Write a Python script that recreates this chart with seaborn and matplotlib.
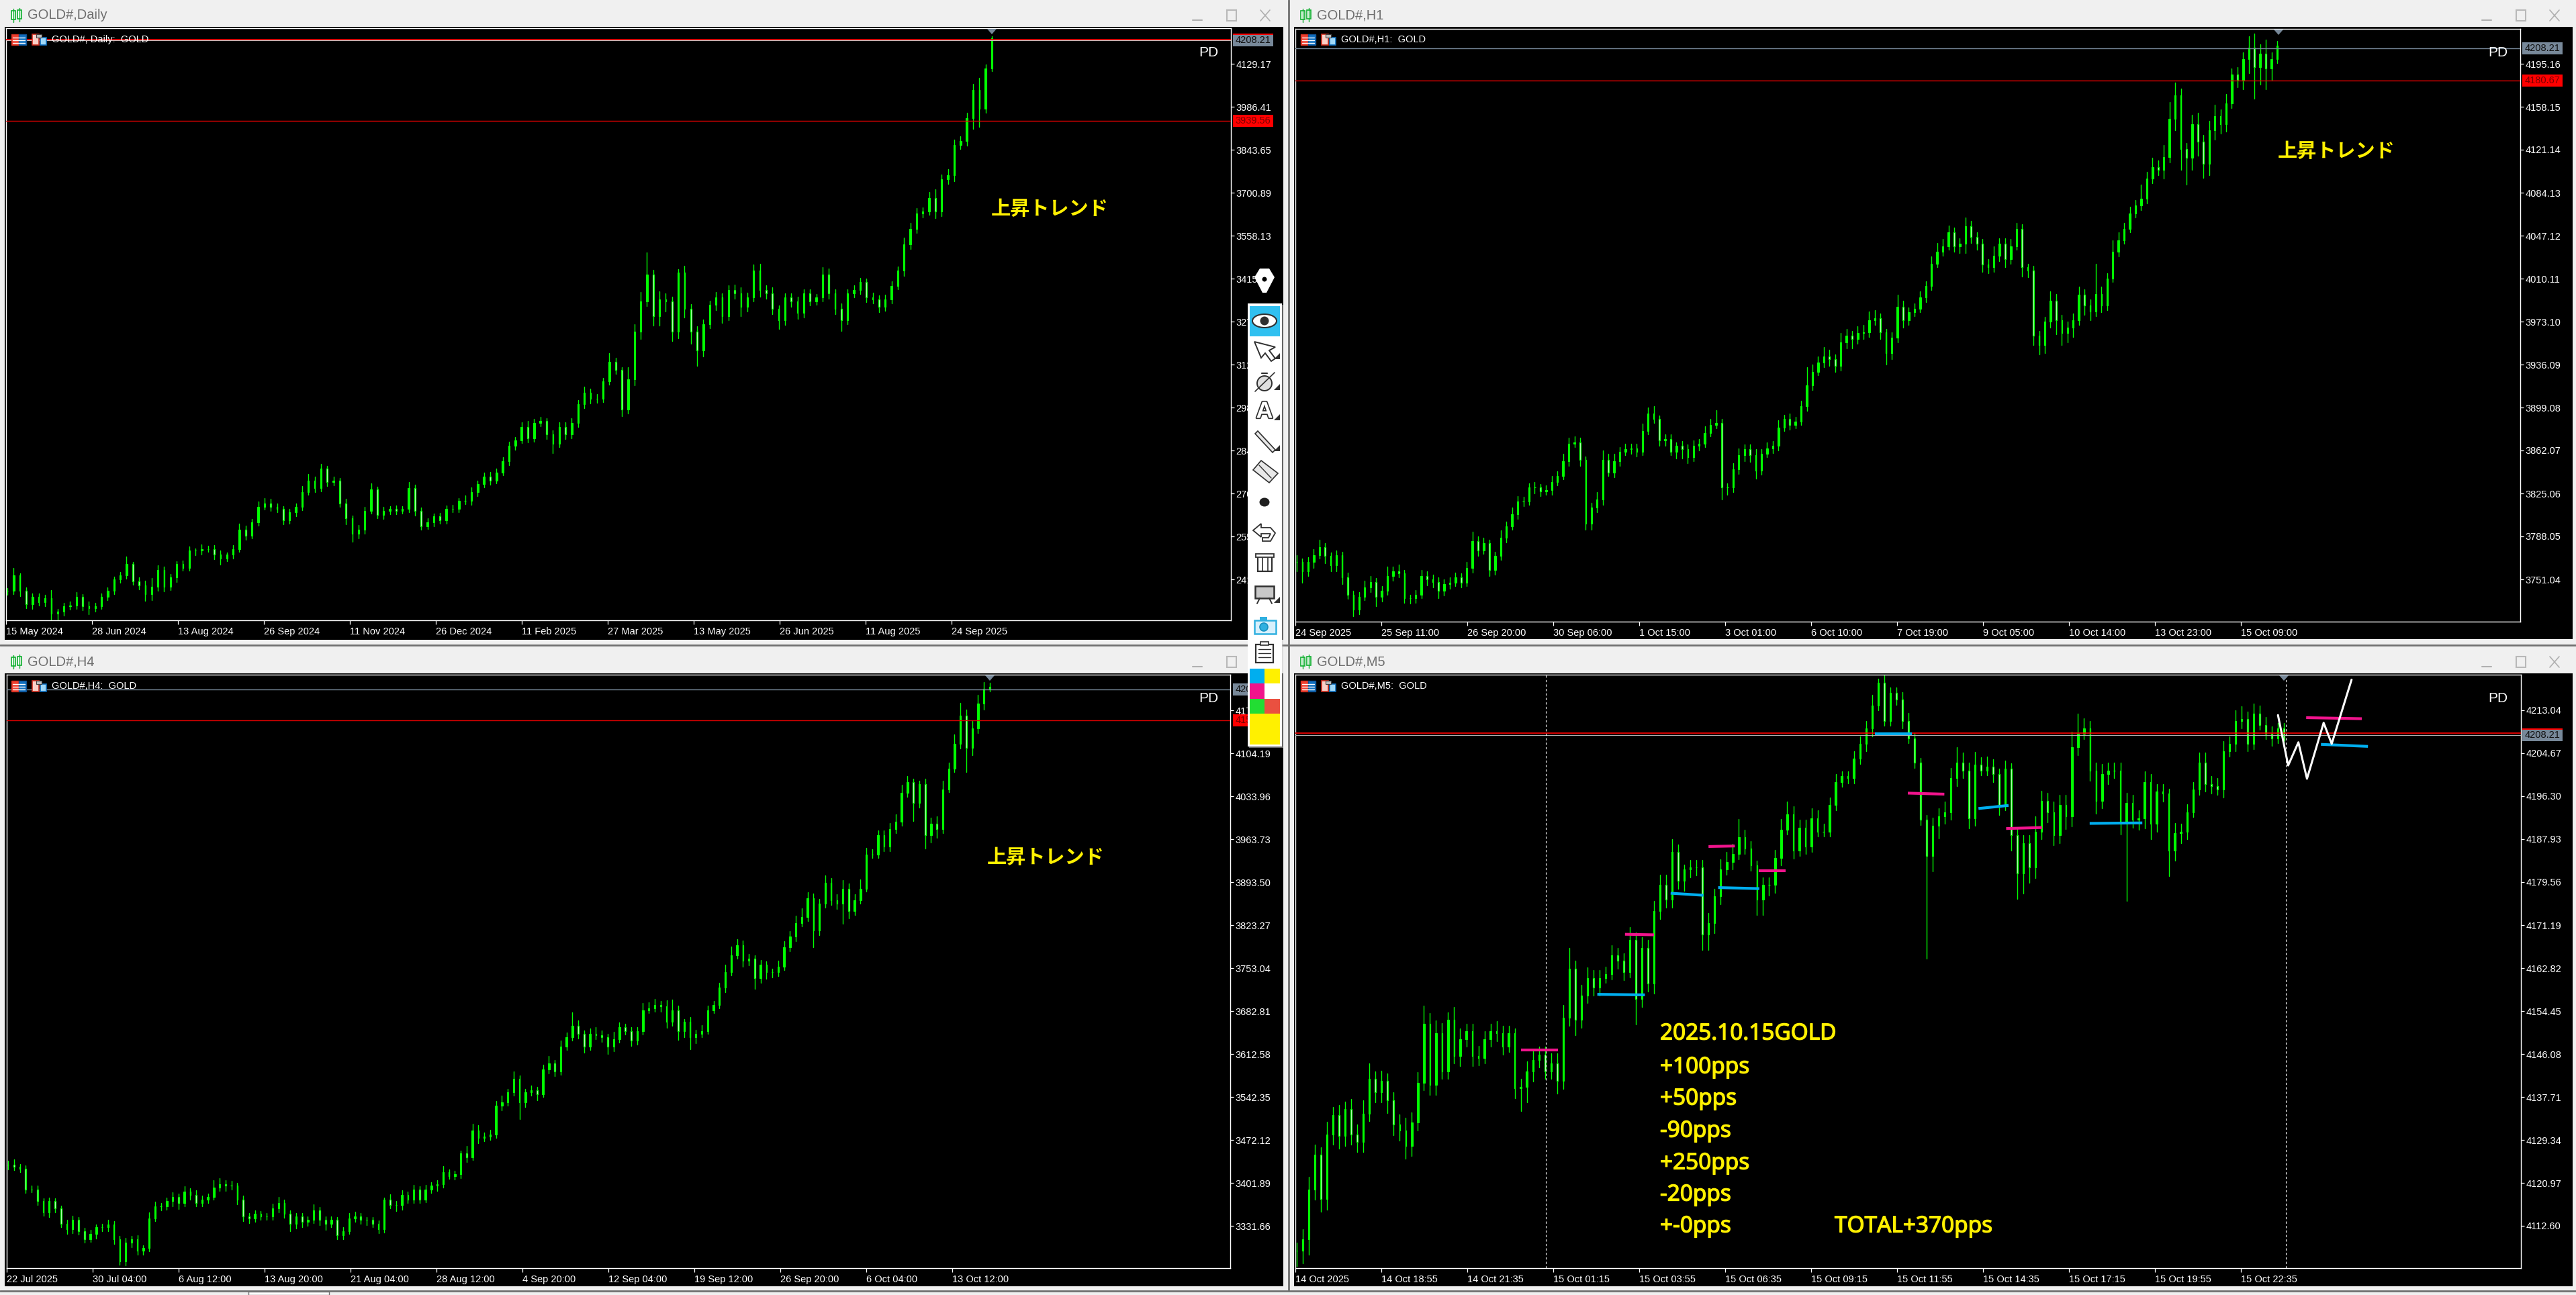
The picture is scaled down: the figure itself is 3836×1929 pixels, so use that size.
import numpy as np
import pandas as pd
import matplotlib
matplotlib.use("Agg")
import matplotlib.pyplot as plt
import matplotlib.patheffects as pe
from matplotlib.patches import Rectangle, Polygon, Ellipse, Circle
import seaborn as sns

# ─── Values ───────────────────────────────────────────────
d1_close = [
    2378,2429,2378,2334,2359,2340,2353,2302,2308,2327,
    2330,2359,2327,2321,2327,2359,2378,2416,2429,2467,
    2410,2397,2366,2391,2448,2391,2422,2467,2454,2511,
    2511,2517,2517,2498,2486,2498,2517,2581,2562,2606,
    2657,2669,2657,2650,2612,2638,2657,2707,2745,2720,
    2783,2739,2745,2669,2619,2568,2581,2644,2714,2631,
    2644,2650,2644,2650,2720,2644,2593,2606,2625,2612,
    2650,2650,2676,2676,2707,2733,2758,2745,2771,2809,
    2859,2878,2923,2885,2935,2942,2897,2866,2923,2897,
    2935,2998,3036,3017,3017,3074,3138,3112,2980,3081,
    3239,3340,3429,3290,3347,3340,3239,3435,3315,3239,
    3176,3264,3328,3353,3290,3378,3366,3321,3353,3442,
    3378,3366,3315,3277,3353,3340,3302,3366,3340,3353,
    3429,3366,3315,3277,3366,3378,3404,3353,3347,3321,
    3347,3391,3442,3530,3581,3632,3638,3682,3638,3745,
    3758,3859,3872,3948,4043,3980,4113,4214]
d1_wick_up = [
    10,25,8,12,10,10,12,28,10,12,
    12,14,8,15,10,10,12,10,12,25,
    8,12,15,30,15,10,12,10,12,14,
    8,15,10,12,14,8,12,20,14,10,
    18,16,14,10,10,12,10,18,22,12,
    16,10,12,8,14,10,16,14,22,10,
    12,10,12,10,20,10,10,12,10,12,
    12,14,10,18,14,12,12,14,12,12,
    14,12,16,20,14,14,10,14,16,14,
    16,14,20,14,14,12,30,14,10,40,
    25,30,73,15,25,20,15,12,22,15,
    18,15,14,18,14,16,18,20,16,20,
    22,14,20,12,14,14,16,14,14,12,
    25,20,14,18,14,14,14,12,16,12,
    14,16,14,22,20,18,14,22,30,16,
    20,18,16,18,20,40,14,6]
d1_wick_dn = [
    14,12,18,14,16,12,14,20,30,12,
    12,12,14,20,12,10,12,10,12,10,
    12,14,22,18,12,16,10,14,10,10,
    14,12,10,14,20,10,12,10,14,10,
    12,10,14,12,12,10,12,12,10,14,
    12,14,10,12,20,28,16,14,10,12,
    14,12,12,10,12,16,12,10,14,10,
    10,10,12,10,12,14,12,14,10,10,
    14,12,10,14,12,10,14,30,10,14,
    12,12,14,16,14,12,12,14,22,12,
    20,25,16,30,30,35,30,22,28,40,
    50,20,14,18,22,14,18,30,16,14,
    22,18,18,30,16,18,20,16,14,12,
    14,18,18,35,14,14,14,16,14,18,
    12,14,12,18,16,14,14,10,22,16,
    16,20,14,14,35,60,14,8]

h1_close = [
    3766,3758,3766,3772,3779,3771,3763,3772,3753,3738,
    3725,3736,3744,3749,3736,3741,3754,3758,3756,3735,
    3735,3738,3754,3751,3749,3741,3747,3748,3753,3748,
    3761,3784,3776,3782,3759,3771,3787,3797,3807,3818,
    3818,3830,3830,3827,3828,3835,3840,3853,3868,3869,
    3854,3799,3813,3820,3854,3843,3853,3861,3863,3864,
    3861,3879,3894,3889,3871,3872,3861,3866,3863,3856,
    3866,3868,3877,3884,3886,3830,3830,3846,3858,3863,
    3858,3845,3859,3864,3866,3882,3889,3884,3887,3900,
    3918,3930,3938,3943,3941,3935,3955,3961,3958,3963,
    3964,3974,3976,3964,3946,3959,3986,3974,3981,3984,
    3994,4004,4023,4033,4038,4050,4038,4040,4055,4046,
    4040,4022,4020,4030,4040,4027,4038,4053,4020,4017,
    3961,3953,3973,3991,3974,3963,3968,3974,3996,3987,
    3982,3997,3987,4010,4033,4043,4053,4066,4073,4079,
    4096,4106,4104,4115,4148,4168,4122,4114,4143,4128,
    4109,4138,4150,4143,4161,4186,4181,4199,4209,4192,
    4204,4191,4199,4211]
h1_wick_up = [
    6,3,4,5,6,3,3,4,3,4,
    3,4,6,5,3,4,8,4,6,3,
    3,4,5,4,4,4,4,5,4,3,
    5,8,4,5,3,4,6,4,6,5,
    4,4,5,3,4,5,4,6,5,5,
    4,3,4,6,8,5,6,4,5,4,
    4,6,5,6,3,4,4,3,4,4,
    5,4,6,5,11,3,4,5,6,4,
    4,5,4,5,4,6,4,5,4,5,
    16,6,5,8,6,4,8,6,4,6,
    6,8,7,4,3,5,10,5,4,5,
    5,4,6,8,6,6,4,5,8,5,
    4,4,5,8,5,5,6,5,4,3,
    4,4,4,8,6,5,5,6,7,5,
    5,26,6,5,10,7,5,6,5,12,
    6,8,6,10,14,11,6,5,8,10,
    6,8,10,6,8,5,6,6,10,12,
    8,12,6,4]
h1_wick_dn = [
    8,10,4,5,3,6,5,5,6,4,
    6,4,3,4,8,4,3,4,3,4,
    5,4,3,5,5,6,4,4,3,4,
    3,4,5,3,5,4,3,4,3,4,
    4,3,5,4,3,4,3,3,4,3,
    5,5,5,4,5,3,4,4,3,4,
    4,3,3,3,5,5,3,6,8,5,
    3,4,3,3,3,10,6,4,4,5,
    6,7,4,3,4,4,3,4,3,3,
    4,4,3,4,6,5,4,5,8,4,
    5,4,4,6,10,5,4,6,4,3,
    3,4,4,3,3,3,5,6,8,5,
    5,6,5,4,5,7,4,3,8,6,
    8,8,7,5,12,10,8,8,4,8,
    8,4,6,4,3,4,3,3,3,4,
    4,4,5,8,5,10,18,23,10,12,
    12,10,8,8,6,4,6,8,12,27,
    15,18,10,3]

h4_close = [
    3432,3428,3425,3391,3391,3372,3354,3372,3360,3335,
    3326,3341,3323,3310,3319,3329,3329,3334,3310,3273,
    3304,3310,3291,3295,3344,3363,3363,3372,3379,3369,
    3388,3382,3369,3375,3379,3394,3400,3397,3397,3375,
    3347,3344,3351,3347,3347,3360,3369,3351,3335,3347,
    3338,3341,3357,3341,3335,3341,3316,3323,3344,3347,
    3341,3341,3335,3326,3375,3366,3366,3382,3375,3391,
    3375,3391,3397,3400,3419,3413,3416,3450,3444,3488,
    3475,3478,3481,3528,3534,3550,3572,3534,3550,3553,
    3547,3587,3597,3584,3625,3640,3659,3646,3625,3646,
    3643,3640,3625,3637,3656,3650,3634,3650,3684,3687,
    3693,3690,3665,3684,3650,3665,3640,3646,3650,3684,
    3693,3721,3746,3774,3790,3765,3768,3737,3758,3746,
    3746,3755,3787,3805,3827,3836,3867,3815,3858,3892,
    3864,3858,3883,3846,3864,3883,3939,3939,3970,3952,
    3980,3992,4039,4057,4023,4054,3970,3989,3980,4045,
    4079,4120,4166,4113,4145,4185,4210,4213]
h4_wick_up = [
    6,8,5,5,6,6,5,6,5,5,
    6,7,5,5,6,5,6,8,5,5,
    8,5,6,5,10,8,6,6,8,5,
    8,5,8,6,5,12,10,6,8,5,
    6,5,6,5,5,8,10,5,6,5,
    6,6,10,5,6,6,5,6,8,8,
    6,5,5,5,3,8,6,8,6,8,
    5,8,6,6,10,5,6,5,12,10,
    8,6,8,8,10,6,12,6,5,8,
    6,8,12,6,10,8,22,8,5,8,
    10,8,5,12,8,6,6,6,12,10,
    10,6,10,18,8,5,8,6,10,8,
    6,8,12,14,10,8,8,6,8,6,
    6,10,10,8,12,15,10,8,8,12,
    8,10,14,8,10,15,10,8,8,8,
    10,12,14,10,6,5,8,10,12,14,
    10,15,20,10,12,15,10,6]
h4_wick_dn = [
    8,5,6,6,5,6,6,8,6,6,
    8,6,6,6,5,8,6,6,8,5,
    6,8,6,6,5,5,6,5,8,10,
    6,8,6,5,6,5,5,8,6,8,
    8,8,6,6,6,5,6,6,12,8,
    8,6,5,8,10,6,6,6,5,6,
    6,8,6,6,5,6,10,8,6,6,
    6,5,6,8,6,5,6,6,8,5,
    8,5,6,6,8,6,6,28,8,6,
    10,5,6,8,5,6,6,8,10,6,
    6,8,12,8,6,6,8,6,6,5,
    5,8,10,6,14,10,20,10,6,5,
    5,6,8,5,6,10,8,18,8,10,
    8,6,5,6,8,6,6,28,8,6,
    8,8,32,12,6,6,5,6,6,8,
    8,6,6,6,30,8,22,12,14,6,
    5,6,8,40,12,8,10,5]

m5_close = [
    4107.8,4110.0,4119.7,4126.4,4117.8,4130.4,4134.2,4130.1,4135.3,4130.4,
    4129.0,4134.5,4141.2,4138.6,4140.8,4137.1,4132.3,4131.2,4128.2,4132.7,
    4140.5,4152.0,4140.1,4150.1,4142.7,4152.7,4145.7,4149.0,4150.5,4145.7,
    4145.3,4149.0,4150.5,4150.1,4147.5,4150.1,4139.4,4139.7,4142.7,4144.9,
    4146.0,4142.7,4144.2,4140.8,4153.1,4162.7,4152.7,4157.5,4160.9,4159.0,
    4160.9,4161.6,4165.3,4164.2,4162.0,4168.3,4156.8,4166.8,4159.8,4173.9,
    4179.0,4176.1,4185.4,4179.8,4182.0,4182.4,4182.4,4169.4,4171.6,4176.8,
    4182.0,4183.5,4185.0,4188.3,4186.1,4182.8,4176.1,4179.0,4179.0,4184.3,
    4189.8,4192.8,4185.7,4190.2,4186.5,4192.0,4189.4,4189.4,4194.6,4199.1,
    4200.2,4199.8,4203.6,4206.5,4209.5,4214.0,4218.4,4211.0,4216.5,4215.1,
    4211.0,4207.6,4202.8,4191.7,4184.6,4190.6,4192.4,4193.2,4199.8,4202.8,
    4201.3,4192.0,4202.4,4201.3,4202.0,4200.6,4194.6,4201.7,4188.7,4181.3,
    4187.2,4182.4,4189.4,4195.4,4193.2,4188.7,4194.6,4192.4,4205.8,4208.4,
    4209.5,4201.3,4195.4,4200.6,4201.3,4201.3,4190.9,4195.0,4191.7,4192.0,
    4199.1,4190.9,4197.2,4196.8,4185.7,4189.1,4189.4,4193.2,4197.6,4202.8,
    4198.7,4198.3,4197.6,4205.0,4206.5,4211.0,4211.3,4206.5,4212.4,4210.2,
    4208.4,4207.6,4209.5,4207.2]
m5_wick_up = [
    1.5,2,2.5,2,1.5,2.5,1.5,2,1.5,2,
    2,2.5,3,1.5,2,1.5,1.5,2,2.5,2,
    2,3.5,2,2.5,2,1.5,2.5,2,1.5,1.5,
    2,1.5,1.5,2,1.5,1.5,1,1.5,2,2,
    1.5,1.5,2,2,2.5,4,1.5,2,2,1.5,
    1.5,1.5,2,1.5,1.5,2.5,1.5,2,1.5,2,
    2,2,2.5,1.5,1,1.5,1.5,1.5,2,1.5,
    2,2,2,3.5,1.5,1.5,1,1.5,1.5,1.5,
    2,2.5,1.5,1.5,1.5,2,1.5,1.5,1.5,1.5,
    1,1,1.5,1.5,1.5,2,0.8,1.5,1,1,
    1.5,1.5,1,1,1,1.5,1.5,2,2,3,
    2,1.5,2.5,1.5,2,1.5,1,1.5,1,1.5,
    1.5,1.5,3,2,1.5,2,2,2,3,4,
    2,1.5,1.5,2,1.5,1.5,1.5,2,1.5,1.5,
    2,1.5,1.5,1.5,1,2,1.5,1.5,1.5,2,
    2,1.5,1.5,2,1.5,2,2.5,1.5,2,1.5,
    1.5,1.5,1,1]
m5_wick_dn = [
    3,2.5,3,2,2.5,2,2,2.5,2,2,
    2,2,1.5,2,2,2.5,2,2,2.5,2,
    1.5,1.5,2,2,1.5,1.5,1.5,2,1.5,2,
    1.5,1,1.5,1.5,1.5,1,2,4.5,3,2,
    1.5,1.5,1.5,2.5,1.5,1.5,3,1.5,1.5,1.5,
    1.5,1,1,1.5,1.5,1,5,1.5,1.5,2,
    1.5,1.5,1.5,1.5,2,1.5,1.5,3,3,2,
    1.5,1,1.5,1,1,1,3,3,2,1.5,
    1.5,1,1.5,1,1.5,1,1,1,1,1,
    1,1,1,1,1.5,1.5,1,1,1,1,
    1.5,1,1,1,20,3,2.5,1.5,1.5,1.5,
    1.5,2,1.5,1,1,1.5,2,1,3,5,
    4,3,2,1.5,2,2,1.5,2.5,2,1.5,
    1,2,2.5,1.5,2,1.5,2,15,1.5,2,
    2,3,1.5,1.5,5,2,2,1.5,1,1,
    1.5,1.5,1,1.5,1,1.5,1.5,1.5,1,1,
    1,1.5,1,0.6]

d1_ticks = [4129.17,3986.41,3843.65,3700.89,3558.13,3415.37,3272.61,3129.85,2987.09,2844.33,2701.57,2558.81,2416.05]
h1_ticks = [4195.16,4158.15,4121.14,4084.13,4047.12,4010.11,3973.10,3936.09,3899.08,3862.07,3825.06,3788.05,3751.04]
h4_ticks = [4174.42,4104.19,4033.96,3963.73,3893.50,3823.27,3753.04,3682.81,3612.58,3542.35,3472.12,3401.89,3331.66]
m5_ticks = [4213.04,4204.67,4196.30,4187.93,4179.56,4171.19,4162.82,4154.45,4146.08,4137.71,4129.34,4120.97,4112.60]

d1_dates = ["15 May 2024","28 Jun 2024","13 Aug 2024","26 Sep 2024","11 Nov 2024","26 Dec 2024",
            "11 Feb 2025","27 Mar 2025","13 May 2025","26 Jun 2025","11 Aug 2025","24 Sep 2025"]
h1_dates = ["24 Sep 2025","25 Sep 11:00","26 Sep 20:00","30 Sep 06:00","1 Oct 15:00","3 Oct 01:00",
            "6 Oct 10:00","7 Oct 19:00","9 Oct 05:00","10 Oct 14:00","13 Oct 23:00","15 Oct 09:00"]
h4_dates = ["22 Jul 2025","30 Jul 04:00","6 Aug 12:00","13 Aug 20:00","21 Aug 04:00","28 Aug 12:00",
            "4 Sep 20:00","12 Sep 04:00","19 Sep 12:00","26 Sep 20:00","6 Oct 04:00","13 Oct 12:00"]
m5_dates = ["14 Oct 2025","14 Oct 18:55","14 Oct 21:35","15 Oct 01:15","15 Oct 03:55","15 Oct 06:35",
            "15 Oct 09:15","15 Oct 11:55","15 Oct 14:35","15 Oct 17:15","15 Oct 19:55","15 Oct 22:35"]

# m5 drawings: bar number and price of the two ends of each stroke
pink_bars   = [(84,97.8),(122.7,133.5),(153.8,163.6),(172.5,182.5),(228,241.6),(264.6,278),(376.3,397)]
pink_prices = [(4146.9,4146.9),(4169.4,4169.3),(4186.5,4186.6),(4181.8,4181.8),(4196.9,4196.7),(4190.0,4190.2),(4211.6,4211.4)]
blue_bars   = [(112.4,130.1),(139.7,151.9),(157.4,172.7),(215.8,229.4),(254.3,265.5),(295.7,315.3),(381.8,399.3)]
blue_prices = [(4157.7,4157.6),(4177.4,4177.0),(4178.5,4178.3),(4208.4,4208.4),(4193.9,4194.5),(4191.0,4191.1),(4206.4,4206.0)]
zigzag_bars   = [365.8,369.6,373.4,376.6,382.8,385.8,393.2]
zigzag_prices = [4212.1,4202.3,4206.8,4199.7,4210.6,4206.5,4219.0]
m5_session_bars = [93.2,368.8]

note_lines = ["2025.10.15GOLD","+100pps","+50pps","-90pps","+250pps","-20pps","+-0pps"]
note_total = "TOTAL+370pps"
trend_label = "上昇トレンド"
last_price = 4208.21

# ─── Style ────────────────────────────────────────────────
W, H = 3836, 1929
GREEN  = "#00FF00"
RED    = "#FF0000"
SLATE  = "#778899"
YELLOW = "#FFF000"
PINK   = "#F0148C"
BLUE   = "#00AEEF"
LIGHT  = "#F0F0F0"
GREYTX = "#6E6E6E"

sns.set_theme(style="dark")
plt.rcParams["font.family"] = ["Liberation Sans", "Noto Sans CJK JP", "DejaVu Sans"]
plt.rcParams["axes.grid"] = False

fig = plt.figure(figsize=(W / 100, H / 100), dpi=100, facecolor=LIGHT)


def px_axes(left, top, right, bottom, **kw):
    return fig.add_axes([left / W, 1 - bottom / H, (right - left) / W, (bottom - top) / H], **kw)


def overlay(zorder):
    ax = px_axes(0, 0, W, H, zorder=zorder)
    ax.set_xlim(0, W)
    ax.set_ylim(H, 0)
    ax.axis("off")
    ax.patch.set_alpha(0)
    return ax


back = overlay(0)
top = overlay(5)


# ─── Window furniture ─────────────────────────────────────
def window(x0, y0, x1, y1, title, tx):
    back.add_patch(Rectangle((x0, y0), x1 - x0, y1 - y0, fc="black", ec="none"))
    ty = y0 - 17
    back.text(tx, ty, title, color=GREYTX, fontsize=14.5, va="center", ha="left")
    # little green candles of the title bar
    for cx, a, b in [(tx - 21, ty - 7, ty + 6), (tx - 12, ty - 8, ty + 5)]:
        back.plot([cx, cx], [a - 3, b + 4], color="#10B030", lw=1)
        back.add_patch(Rectangle((cx - 3, a), 6, b - a, fc="white", ec="#10B030", lw=1.2))
    bx = x1 - 128
    back.plot([bx - 7, bx + 7], [ty + 7, ty + 7], color="#B0B0B0", lw=1.5)
    back.add_patch(Rectangle((bx + 44, ty - 8), 14, 16, fc="none", ec="#B8B8B8", lw=1.5))
    back.plot([bx + 94, bx + 108], [ty - 8, ty + 8], color="#B0B0B0", lw=1.2)
    back.plot([bx + 94, bx + 108], [ty + 8, ty - 8], color="#B0B0B0", lw=1.2)


window(7, 40, 1911, 953, "GOLD#,Daily", 41)
window(1927, 40, 3831, 952, "GOLD#,H1", 1961)
window(7, 1003, 1911, 1916, "GOLD#,H4", 41)
window(1927, 1003, 3831, 1916, "GOLD#,M5", 1961)
back.plot([1919, 1919], [0, 1923], color="#707070", lw=2)
back.plot([0, W], [961, 961], color="#707070", lw=2)
back.plot([0, W], [1923, 1923], color="#707070", lw=2)
back.add_patch(Rectangle((370, 1924), 120, 5, fc="white", ec="#707070", lw=1))


# ─── Candles ──────────────────────────────────────────────
def draw_candles(ax, close, wick_up, wick_dn, last_bar):
    close = np.array(close, dtype=float)
    n = len(close)
    up = np.array(wick_up, dtype=float)[:n]
    dn = np.array(wick_dn, dtype=float)[:n]
    opens = np.r_[close[0], close[:-1]]
    body_top = np.maximum(opens, close)
    body_low = np.minimum(opens, close)
    x = np.linspace(0.5, last_bar, n)
    wicks = pd.DataFrame({
        "x": np.r_[x, x],
        "price": np.r_[body_top + up, body_low - dn],
        "bar": np.r_[np.arange(n), np.arange(n)],
    })
    sns.lineplot(data=wicks, x="x", y="price", units="bar", estimator=None, color=GREEN,
                 linewidth=1.0, legend=False, sort=False, ax=ax)
    rising = close >= opens
    ax.bar(x[rising], (body_top - body_low)[rising], bottom=body_low[rising], width=0.6,
           color=GREEN, edgecolor=GREEN, linewidth=0.8, zorder=3)
    ax.bar(x[~rising], (body_top - body_low)[~rising], bottom=body_low[~rising], width=0.4,
           color="#E8FFE8", edgecolor=GREEN, linewidth=0.9, zorder=3)


def price_tag(ax, price, x_left, fc, tc, label):
    y0, y1 = ax.get_ylim()
    pos = ax.get_position()
    py = H * (1 - pos.y0 - pos.height * (price - y0) / (y1 - y0))
    top.add_patch(Rectangle((x_left, py - 9), 60, 18, fc=fc, ec="none", zorder=2))
    top.text(x_left + 30, py, label, color=tc, fontsize=10.5, ha="center", va="center", zorder=3)
    return py


def header_icons(x, y):
    top.add_patch(Rectangle((x, y - 8), 11, 16, fc="#F04030", ec="#D03020", lw=1))
    top.add_patch(Rectangle((x + 11, y - 8), 11, 16, fc="#1070C0", ec="#105090", lw=1))
    for dy in (-3, 1, 5):
        top.plot([x + 2, x + 20], [y + dy, y + dy], color="white", lw=1)
    top.add_patch(Rectangle((x + 31, y - 8), 10, 16, fc="#FBD0C8", ec="#D03020", lw=1.2))
    top.add_patch(Rectangle((x + 43, y - 3), 9, 11, fc="#A0D8F8", ec="#1070C0", lw=1.2))
    top.add_patch(Rectangle((x + 37, y - 8), 8, 5, fc="#C0C0C0", ec="#404040", lw=0.8))


def panel(frame, ticks, tick0_y, step, dates, close, up, dn, last_bar, head, head_xy, pd_xy, lines, tri_x):
    left, ytop, right, bottom = frame
    ax = px_axes(left, ytop, right, bottom, zorder=2)
    ax.set_facecolor("black")
    per_px = step / 64
    ylim = (ticks[0] - (bottom - tick0_y) * per_px, ticks[0] + (tick0_y - ytop) * per_px)
    xlim = (0, (right - left) / 4)
    draw_candles(ax, close, up, dn, last_bar)
    ax.set_xlim(xlim)
    ax.set_ylim(ylim)
    ax.set_xlabel("")
    ax.set_ylabel("")
    ax.yaxis.tick_right()
    ax.set_yticks(ticks)
    ax.set_yticklabels([f"{t:.2f}" for t in ticks])
    ax.set_xticks(np.arange(len(dates)) * 32)
    ax.set_xticklabels(dates, ha="left")
    ax.tick_params(axis="y", colors="white", length=3.5, width=0.9, pad=2, labelsize=10.5, right=True)
    ax.tick_params(axis="x", colors="white", length=4, width=0.9, pad=3, labelsize=10.5, bottom=True)
    for s in ax.spines.values():
        s.set_color("white")
        s.set_linewidth(1.0)
        s.set_visible(True)
    for price, colour, lw in lines:
        ax.axhline(price, color=colour, lw=lw, zorder=4)
    top.text(head_xy[0], head_xy[1], head, color="white", fontsize=10.5, va="center", ha="left")
    header_icons(head_xy[0] - 60, head_xy[1])
    top.text(pd_xy[0], pd_xy[1], "PD", color="white", fontsize=15, va="center", ha="center")
    top.add_patch(Polygon([(tri_x - 7, ytop + 1), (tri_x + 7, ytop + 1), (tri_x, ytop + 9)], fc=SLATE, ec="none"))
    return ax


ax_d1 = panel((9, 42, 1833, 924), d1_ticks, 95, 142.76, d1_dates, d1_close, d1_wick_up, d1_wick_dn, 367,
              "GOLD#, Daily:  GOLD", (77, 59), (1800, 78),
              [(4207.5, "#C8C8C8", 0.8), (4210.0, RED, 1.2), (3939.56, "#E00000", 1.0)], 1477)
ax_h1 = panel((1929, 43, 3753, 926), h1_ticks, 95, 37.01, h1_dates, h1_close, h1_wick_up, h1_wick_dn, 365.5,
              "GOLD#,H1:  GOLD", (1997, 59), (3720, 78),
              [(4208.21, SLATE, 1.0), (4180.67, "#E00000", 1.0)], 3393)
ax_h4 = panel((10, 1005, 1832, 1889), h4_ticks, 1058, 70.23, h4_dates, h4_close, h4_wick_up, h4_wick_dn, 366,
              "GOLD#,H4:  GOLD", (77, 1022), (1800, 1041),
              [(4208.21, SLATE, 1.0), (4158.42, "#E00000", 1.0)], 1474)
ax_m5 = panel((1929, 1005, 3754, 1889), m5_ticks, 1058, 8.37, m5_dates, m5_close, m5_wick_up, m5_wick_dn, 368,
              "GOLD#,M5:  GOLD", (1997, 1022), (3720, 1041),
              [(4208.21, "#B0B0B0", 0.8), (4208.55, RED, 1.2)], 3401)

# price tags on the right scale
for ax, xl in ((ax_d1, 1836), (ax_h1, 3756), (ax_h4, 1836), (ax_m5, 3756)):
    py = price_tag(ax, last_price, xl, SLATE, "#101010", f"{last_price:.2f}")
    if ax in (ax_d1, ax_m5):
        top.add_patch(Rectangle((xl, py - 10), 60, 2, fc=RED, ec="none", zorder=3))
price_tag(ax_d1, 3939.56, 1836, RED, "#7A0000", "3939.56")
price_tag(ax_h1, 4180.67, 3756, RED, "#7A0000", "4180.67")
price_tag(ax_h4, 4158.42, 1836, RED, "#7A0000", "4158.42")

# ─── M5 drawings ──────────────────────────────────────────
for bar in m5_session_bars:
    ax_m5.axvline(bar, color="white", lw=0.8, ls=(0, (3, 3)), zorder=4)

for bars, prices, colour in ((pink_bars, pink_prices, PINK), (blue_bars, blue_prices, BLUE)):
    for b, p in zip(bars, prices):
        stroke = pd.DataFrame({"bar": b, "price": p})
        sns.lineplot(data=stroke, x="bar", y="price", estimator=None, color=colour, linewidth=3.0,
                     legend=False, sort=False, ax=ax_m5, zorder=6, solid_capstyle="butt")

sns.lineplot(x=zigzag_bars, y=zigzag_prices, estimator=None, color="white", linewidth=2.2,
             legend=False, sort=False, ax=ax_m5, zorder=7)
ax_m5.set_xlabel("")
ax_m5.set_ylabel("")

# ─── Yellow notes ─────────────────────────────────────────
CJK = ["Noto Sans CJK JP", "DejaVu Sans"]
FAT = [pe.withStroke(linewidth=0.9, foreground=YELLOW)]
for x, y in ((1563, 311), (1557, 1277), (3479, 225)):
    top.text(x, y, trend_label, color=YELLOW, fontsize=21, family=CJK, weight="bold", ha="center", va="center")
for line, y in zip(note_lines, (1540, 1590, 1637, 1685, 1733, 1780, 1827)):
    top.text(2472, y, line, color=YELLOW, fontsize=24, family=["Noto Sans", "DejaVu Sans"],
             ha="left", va="center", path_effects=FAT)
top.text(2732, 1827, note_total, color=YELLOW, fontsize=24, family=["Noto Sans", "DejaVu Sans"],
         ha="left", va="center", path_effects=FAT)

# ─── Drawing toolbar ──────────────────────────────────────
INK = "#303030"
Z = 10


def ink_line(xs, ys, lw=1.4, colour=INK):
    top.plot(xs, ys, color=colour, lw=lw, zorder=Z + 1, solid_capstyle="round")


# nib above the bar
top.add_patch(Polygon([(1868, 413), (1876, 400), (1890, 400), (1898, 413), (1886, 436), (1880, 436)],
                      fc="white", ec="none", zorder=Z))
top.add_patch(Circle((1883, 416), 3.5, fc="black", ec="none", zorder=Z + 1))
top.add_patch(Rectangle((1860, 454), 51, 660, fc="#C8C8C8", ec="none", alpha=0.5, zorder=Z - 1))
top.add_patch(Rectangle((1858, 452), 51, 660, fc="white", ec="none", zorder=Z))
# eye
top.add_patch(Rectangle((1861, 456), 45, 45, fc="#30C0F0", ec="none", zorder=Z))
top.add_patch(Ellipse((1883, 478), 36, 20, fc="white", ec=INK, lw=1.5, zorder=Z + 1))
top.add_patch(Circle((1883, 478), 6.5, fc=INK, ec="none", zorder=Z + 2))
# arrow
top.add_patch(Polygon([(1868, 509), (1899, 517), (1890, 522), (1899, 534), (1893, 538), (1884, 526), (1878, 533)],
                      fc="white", ec=INK, lw=1.4, zorder=Z + 1))
# stopwatch
top.add_patch(Circle((1883, 571), 11, fc="#E0E0E0", ec=INK, lw=1.4, zorder=Z + 1))
ink_line([1879, 1887], [556, 556], 1.6)
ink_line([1869, 1898], [583, 555], 1.2)
# A
top.text(1883, 613, "A", color="white", fontsize=25, weight="bold", ha="center", va="center", zorder=Z + 1,
         path_effects=[pe.withStroke(linewidth=2.4, foreground=INK)])
# line
top.add_patch(Polygon([(1869, 646), (1873, 642), (1899, 670), (1895, 674)], fc="#E8E8E8", ec=INK, lw=1.2, zorder=Z + 1))
# eraser
top.add_patch(Polygon([(1866, 700), (1878, 686), (1903, 705), (1890, 719)], fc="#E8E8E8", ec=INK, lw=1.2, zorder=Z + 1))
ink_line([1875, 1893], [693, 712], 1.0)
# dot
top.add_patch(Ellipse((1883, 748), 15, 13, fc="#202020", ec="none", zorder=Z + 1))
# undo
top.add_patch(Polygon([(1866, 790), (1878, 780), (1878, 786), (1892, 786), (1899, 794), (1892, 806), (1880, 806),
                       (1880, 801), (1889, 801), (1892, 795), (1878, 795), (1878, 800)],
                      fc="white", ec=INK, lw=1.3, zorder=Z + 1))
# bin
top.add_patch(Rectangle((1873, 829), 21, 22, fc="white", ec=INK, lw=1.6, zorder=Z + 1))
top.add_patch(Rectangle((1870, 825), 27, 5, fc="white", ec=INK, lw=1.3, zorder=Z + 1))
ink_line([1880, 1880], [831, 850], 1.2)
ink_line([1888, 1888], [831, 850], 1.2)
# easel
top.add_patch(Rectangle((1869, 873), 28, 18, fc="#C8C8C8", ec=INK, lw=1.8, zorder=Z + 1))
ink_line([1876, 1872], [891, 899], 1.4)
ink_line([1890, 1894], [891, 899], 1.4)
# camera
top.add_patch(Rectangle((1868, 924), 32, 20, fc="#D8F0FC", ec="#30B0E0", lw=1.8, zorder=Z + 1))
top.add_patch(Rectangle((1876, 919), 11, 5, fc="#30B0E0", ec="none", zorder=Z + 1))
top.add_patch(Circle((1882, 934), 6, fc="#30B0E0", ec="#1890C0", lw=1.2, zorder=Z + 2))
# clipboard
top.add_patch(Rectangle((1870, 960), 26, 27, fc="white", ec=INK, lw=1.6, zorder=Z + 1))
top.add_patch(Rectangle((1877, 956), 12, 5, fc="white", ec=INK, lw=1.2, zorder=Z + 1))
for yy in (967, 973, 979):
    ink_line([1874, 1892], [yy, yy], 1.0)
# small corner flags of the sub-menus
for yy in (535, 581, 626, 672, 898):
    top.add_patch(Polygon([(1906, yy - 9), (1906, yy), (1897, yy)], fc="#303030", ec="none", zorder=Z + 2))
# palette
for (x0, y0, w, h, c) in [(1861, 996, 22, 22, BLUE), (1883, 996, 23, 22, YELLOW),
                          (1861, 1018, 22, 23, PINK), (1883, 1018, 23, 23, "white"),
                          (1861, 1041, 22, 22, "#22DD33"), (1883, 1041, 23, 22, "#EA5040"),
                          (1861, 1063, 45, 46, YELLOW)]:
    top.add_patch(Rectangle((x0, y0), w, h, fc=c, ec="none", zorder=Z + 1))

top.set_xlim(0, W)
top.set_ylim(H, 0)
back.set_xlim(0, W)
back.set_ylim(H, 0)

fig.savefig("out.png", dpi=100, facecolor=LIGHT)
plt.close(fig)
